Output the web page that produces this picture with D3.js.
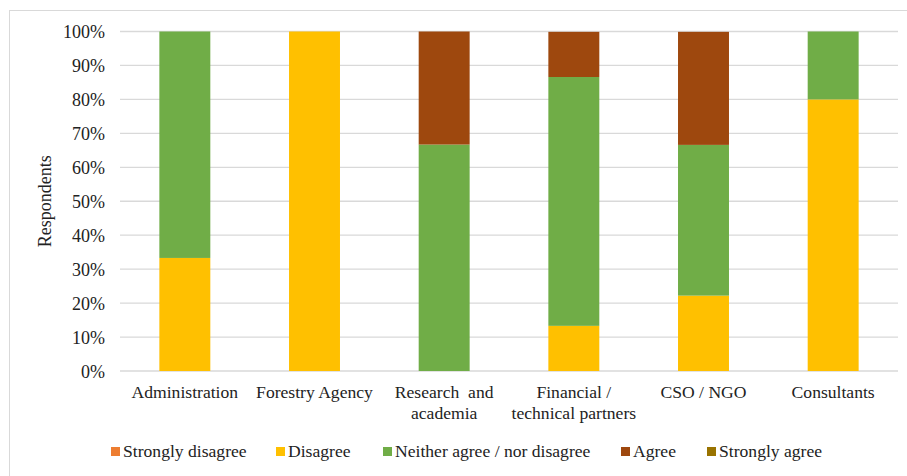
<!DOCTYPE html>
<html>
<head>
<meta charset="utf-8">
<script src="https://cdn.jsdelivr.net/npm/d3@7"></script>
<style>
  html, body { margin: 0; padding: 0; background: #fff; }
  svg { display: block; font-family: "Liberation Serif", "Times New Roman", serif; }
</style>
</head>
<body>
<svg id="chart" width="907" height="476"></svg>
<script>
// Stakeholder groups (x-axis), with line breaks for wrapped labels
const categories = [
  "Administration",
  "Forestry Agency",
  "Research  and\nacademia",
  "Financial /\ntechnical partners",
  "CSO / NGO",
  "Consultants"
];

// Response levels, bottom to top
const seriesNames = ["Strongly disagree", "Disagree", "Neither agree / nor disagree", "Agree", "Strongly agree"];
const seriesColors = ["#ED7D31", "#FFC000", "#70AD47", "#9E480E", "#997300"];

// Share of respondents (%) per group
const stronglyDisagree = [0, 0, 0, 0, 0, 0];
const disagree         = [33.3, 100, 0, 13.3, 22.2, 80];
const neither          = [66.7, 0, 66.7, 73.3, 44.4, 20];
const agree            = [0, 0, 33.3, 13.3, 33.3, 0];
const stronglyAgree    = [0, 0, 0, 0, 0, 0];

const yTicks = [0, 10, 20, 30, 40, 50, 60, 70, 80, 90, 100];

const FONT = 17.6;
const svg = d3.select("#chart");

// Outer frame
svg.append("rect")
  .attr("x", 9.5).attr("y", 10.5)
  .attr("width", 910).attr("height", 480)
  .attr("fill", "none").attr("stroke", "#d9d9d9").attr("stroke-width", 1);

const plot = { left: 120, right: 898, top: 31.5, bottom: 371 };

const rows = categories.map((c, i) => ({
  cat: c,
  "Strongly disagree": stronglyDisagree[i],
  "Disagree": disagree[i],
  "Neither agree / nor disagree": neither[i],
  "Agree": agree[i],
  "Strongly agree": stronglyAgree[i]
}));

const stack = d3.stack().keys(seriesNames)(rows);

const x = d3.scaleBand()
  .domain(categories)
  .range([plot.left, plot.right])
  .paddingInner(0.607)
  .paddingOuter(0.3035);

const y = d3.scaleLinear().domain([0, 100]).range([plot.bottom, plot.top]);

// Gridlines
svg.append("g")
  .selectAll("line")
  .data(yTicks)
  .join("line")
  .attr("x1", plot.left).attr("x2", plot.right)
  .attr("y1", d => y(d)).attr("y2", d => y(d))
  .attr("stroke", "#d9d9d9").attr("stroke-width", 1.3);

// Y axis labels
const yAxis = d3.axisLeft(y).tickValues(yTicks).tickFormat(d => d + "%").tickSize(0).tickPadding(0);
const gy = svg.append("g").attr("transform", `translate(${plot.left - 15},0)`).call(yAxis);
gy.select(".domain").remove();
gy.selectAll("text")
  .attr("font-family", "Liberation Serif, Times New Roman, serif")
  .attr("font-size", 18).attr("fill", "#222").attr("dy", "0.35em");

// Stacked bars
svg.append("g")
  .selectAll("g")
  .data(stack)
  .join("g")
  .attr("fill", (d, i) => seriesColors[i])
  .selectAll("rect")
  .data(d => d)
  .join("rect")
  .attr("x", d => x(d.data.cat))
  .attr("width", x.bandwidth())
  .attr("y", d => y(d[1]))
  .attr("height", d => y(d[0]) - y(d[1]));

// Category labels
const gx = svg.append("g");
categories.forEach(c => {
  const lines = c.split("\n");
  const t = gx.append("text")
    .attr("x", x(c) + x.bandwidth() / 2)
    .attr("y", 398)
    .attr("text-anchor", "middle")
    .attr("font-size", FONT).attr("fill", "#222")
    .style("white-space", "pre");
  lines.forEach((ln, k) => {
    t.append("tspan")
      .attr("x", x(c) + x.bandwidth() / 2)
      .attr("dy", k === 0 ? 0 : 21)
      .text(ln);
  });
});

// Y axis title
svg.append("text")
  .attr("transform", `translate(51,${(plot.top + plot.bottom) / 2}) rotate(-90)`)
  .attr("text-anchor", "middle")
  .attr("font-size", 18).attr("fill", "#222")
  .text("Respondents");

// Legend
const legendX = [111, 276, 383, 621, 707];
const legend = svg.append("g");
seriesNames.forEach((name, i) => {
  legend.append("rect")
    .attr("x", legendX[i]).attr("y", 447)
    .attr("width", 9).attr("height", 9)
    .attr("fill", seriesColors[i]);
  legend.append("text")
    .attr("x", legendX[i] + 12).attr("y", 457)
    .attr("font-size", FONT).attr("fill", "#222")
    .text(name);
});
</script>
</body>
</html>
